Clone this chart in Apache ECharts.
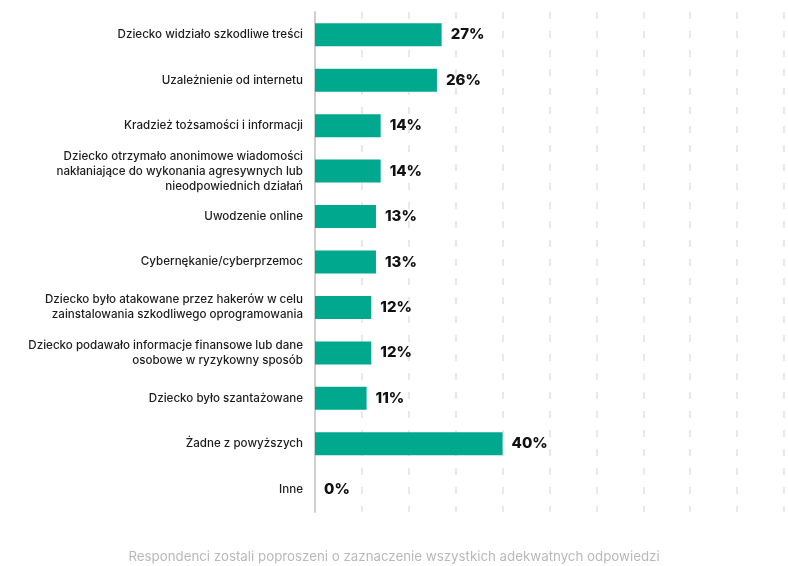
<!DOCTYPE html>
<html>
<head>
<meta charset="UTF-8">
<title>Zagrożenia online</title>
<script src="https://cdn.jsdelivr.net/npm/echarts@6/dist/echarts.min.js"></script>
<style>
html, body { margin: 0; padding: 0; background: #fff; }
#main { width: 788px; height: 566px; }
</style>
</head>
<body>
<div id="main"></div>
<script>
// dane
var categories = [
	'Dziecko widziało szkodliwe treści',
	'Uzależnienie od internetu',
	'Kradzież tożsamości i informacji',
	'Dziecko otrzymało anonimowe wiadomości\nnakłaniające do wykonania agresywnych lub\nnieodpowiednich działań',
	'Uwodzenie online',
	'Cybernękanie/cyberprzemoc',
	'Dziecko było atakowane przez hakerów w celu\nzainstalowania szkodliwego oprogramowania',
	'Dziecko podawało informacje finansowe lub dane\nosobowe w ryzykowny sposób',
	'Dziecko było szantażowane',
	'Żadne z powyższych',
	'Inne'
];
var values = [27, 26, 14, 14, 13, 13, 12, 12, 11, 40, 0];
var footnote = 'Respondenci zostali poproszeni o zaznaczenie wszystkich adekwatnych odpowiedzi';

var chart = echarts.init(document.getElementById('main'));
var option = {
	animation: false,
	textStyle: { fontFamily: 'Inter' },
	title: {
		text: footnote,
		left: 'center',
		top: 545,
		textStyle: { fontSize: 13.3, fontWeight: 'normal', color: '#b9b9b9', fontFamily: 'Inter' }
	},
	grid: { left: 315, right: 4, top: 12, bottom: 54, containLabel: false },
	xAxis: {
		type: 'value',
		min: 0,
		max: 100,
		interval: 10,
		axisLabel: { show: false },
		axisLine: { show: false },
		axisTick: { show: false },
		splitLine: { show: true, lineStyle: { color: '#e2e2e2', width: 1.5, type: [7, 12] } }
	},
	yAxis: {
		type: 'category',
		data: categories,
		inverse: true,
		axisTick: { show: false },
		axisLine: { show: true, lineStyle: { color: '#cfcfcf', width: 2 } },
		axisLabel: {
			margin: 12,
			fontSize: 11.6,
			fontWeight: 500,
			lineHeight: 15,
			color: '#1c1c1c',
			align: 'right'
		}
	},
	series: [{
		type: 'bar',
		data: values,
		barWidth: 23,
		itemStyle: { color: '#00a88e' },
		label: {
			show: true,
			position: 'right',
			distance: 9,
			formatter: '{c}%',
			fontSize: 15,
			fontWeight: 800,
			color: '#111'
		}
	}]
};
chart.setOption(option);
</script>
</body>
</html>
